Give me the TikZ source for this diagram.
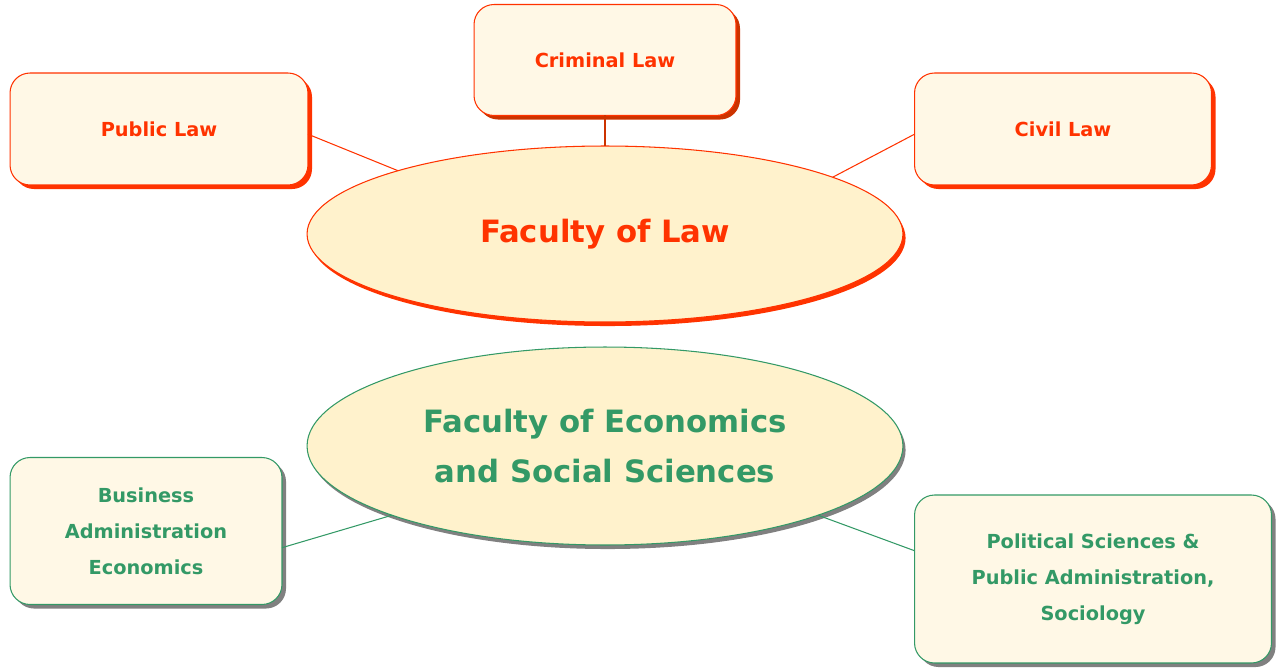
\documentclass[tikz,border=0pt]{standalone}
\usepackage{fontspec}
\setmainfont{DejaVu Sans}
\usetikzlibrary{shapes.geometric,shadows}
\definecolor{lawred}{HTML}{FF3300}
\definecolor{lawdark}{HTML}{CC3300}
\definecolor{ecogreen}{HTML}{339966}
\definecolor{boxfill}{HTML}{FFF8E6}
\definecolor{ovalfill}{HTML}{FFF2CC}
\begin{document}
\begin{tikzpicture}[x=0.02cm,y=-0.02cm,
    subbox/.style={draw,rounded corners=0.4cm,fill=boxfill,line width=0.6pt,
        inner sep=0pt,outer sep=0pt,align=center,font=\fontsize{11}{20.5}\selectfont\bfseries},
    faculty/.style={draw,ellipse,fill=ovalfill,line width=0.6pt,inner sep=0pt,
        outer sep=0pt,align=center,minimum width=11.92cm,font=\fontsize{17.5}{28}\selectfont\bfseries},
    lawbox/.style={subbox,draw=lawred,text=lawred,
        drop shadow={fill=#1,opacity=1,shadow xshift=2.3pt,shadow yshift=-2.3pt}},
    lawbox/.default=lawred,
    ecobox/.style={subbox,draw=ecogreen,text=ecogreen,
        drop shadow={fill=gray,opacity=1,shadow xshift=2.3pt,shadow yshift=-2.3pt}},
    link/.style={line width=0.6pt}]
\useasboundingbox (0,0) rectangle (1280,669);
% law
\node[faculty,draw=lawred,text=lawred,minimum height=3.52cm,
    drop shadow={fill=lawred,opacity=1,shadow xshift=1.5pt,shadow yshift=-2.3pt}]
    (flaw) at (605,234) {Faculty of Law};
\node[lawbox,minimum width=5.96cm,minimum height=2.24cm] (pub) at (159,129) {Public Law};
\node[lawbox=lawdark,minimum width=5.24cm,minimum height=2.22cm] (crim) at (605,60) {Criminal Law};
\node[lawbox,minimum width=5.94cm,minimum height=2.24cm] (civ) at (1063,129) {Civil Law};
\draw[link,lawred] (pub.-2) -- (flaw.163.8);
\draw[link,lawdark] (crim.south) -- (flaw.north);
\draw[link,lawred] (civ.182) -- (flaw.14.2);
% economics
\node[faculty,draw=ecogreen,text=ecogreen,minimum height=3.96cm,
    drop shadow={fill=gray,opacity=1,shadow xshift=1.5pt,shadow yshift=-2.3pt}]
    (fecon) at (605,446) {Faculty of Economics\\ and Social Sciences};
\node[ecobox,minimum width=5.44cm,minimum height=2.94cm] (bus) at (146,531)
    {Business\\Administration\\Economics};
\node[ecobox,minimum width=7.14cm,minimum height=3.36cm] (pol) at (1093,579)
    {Political Sciences \&\\Public Administration,\\Sociology};
\draw[link,ecogreen] (bus.-7) -- (fecon.198.7);
\draw[link,ecogreen] (pol.171) -- (fecon.-18.4);
\end{tikzpicture}
\end{document}
